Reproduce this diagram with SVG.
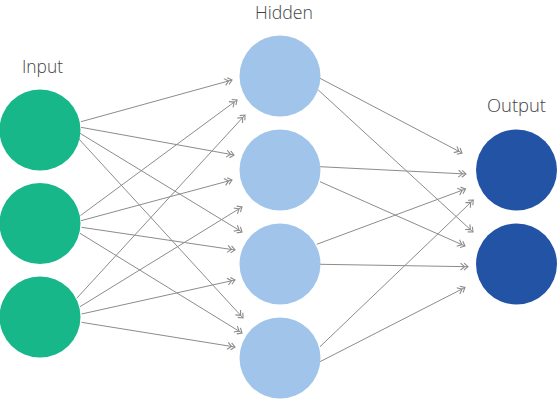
<svg xmlns="http://www.w3.org/2000/svg" width="558" height="400" viewBox="0 0 558 400">
<style>
.lbl{font-family:"Open Sans","Liberation Sans",sans-serif;font-size:19px;font-weight:300;fill:#444444}
.in{fill:#17b789}
.hid{fill:#a1c5ea}
.out{fill:#2353a5}
#connectors line{stroke:#8c8c8c;stroke-width:1;fill:none;marker-end:url(#dbl)}
</style>
<defs>
<marker id="dbl" markerUnits="userSpaceOnUse" viewBox="-10 -5 12 10" refX="0" refY="0" markerWidth="12" markerHeight="10" orient="auto" overflow="visible">
<path d="M-4,-3.5 L0,0 L-4,3.5 M-7.5,-3.5 L-3.5,0 L-7.5,3.5" fill="none" stroke="#8c8c8c" stroke-width="1.1"/>
</marker>
</defs>
<rect width="558" height="400" fill="#ffffff"/>
<g id="connectors">
<line x1="81" y1="121.7" x2="232" y2="80"/>
<line x1="81" y1="127.3" x2="234" y2="155"/>
<line x1="80" y1="133.3" x2="242" y2="232"/>
<line x1="78.3" y1="138.3" x2="243" y2="318"/>
<line x1="80.5" y1="215.5" x2="237" y2="100"/>
<line x1="81" y1="220.7" x2="232" y2="180"/>
<line x1="81.5" y1="227.3" x2="235" y2="250"/>
<line x1="80" y1="233.3" x2="242" y2="333"/>
<line x1="76.7" y1="298.3" x2="245" y2="115"/>
<line x1="80" y1="306.7" x2="242" y2="207"/>
<line x1="81.5" y1="314" x2="235" y2="280"/>
<line x1="81.5" y1="322.3" x2="235" y2="347"/>
<line x1="320" y1="78.3" x2="462" y2="153"/>
<line x1="318.3" y1="90" x2="473" y2="232"/>
<line x1="320" y1="166.7" x2="466" y2="174"/>
<line x1="320" y1="181.7" x2="465" y2="246"/>
<line x1="316.7" y1="244.3" x2="465.5" y2="189"/>
<line x1="320" y1="264.3" x2="468" y2="266.7"/>
<line x1="320" y1="346.7" x2="473.3" y2="200"/>
<line x1="320" y1="361.7" x2="465" y2="287.5"/>
</g>
<g id="label-input"><text class="lbl" x="22" y="72.5" textLength="41" lengthAdjust="spacingAndGlyphs">Input</text></g>
<g id="label-hidden"><text class="lbl" x="255" y="18.5" textLength="58" lengthAdjust="spacingAndGlyphs">Hidden</text></g>
<g id="label-output"><text class="lbl" x="487" y="112" textLength="59" lengthAdjust="spacingAndGlyphs">Output</text></g>
<g id="input1"><circle class="in" cx="40" cy="130" r="40.5"/></g>
<g id="input2"><circle class="in" cx="40" cy="223.5" r="40.5"/></g>
<g id="input3"><circle class="in" cx="40" cy="317" r="40.5"/></g>
<g id="hidden1"><circle class="hid" cx="280" cy="76" r="40.5"/></g>
<g id="hidden2"><circle class="hid" cx="280" cy="170" r="40.5"/></g>
<g id="hidden3"><circle class="hid" cx="280" cy="264" r="40.5"/></g>
<g id="hidden4"><circle class="hid" cx="280" cy="358" r="40.5"/></g>
<g id="output1"><circle class="out" cx="516.5" cy="170" r="40.5"/></g>
<g id="output2"><circle class="out" cx="516.5" cy="264" r="40.5"/></g>
</svg>
